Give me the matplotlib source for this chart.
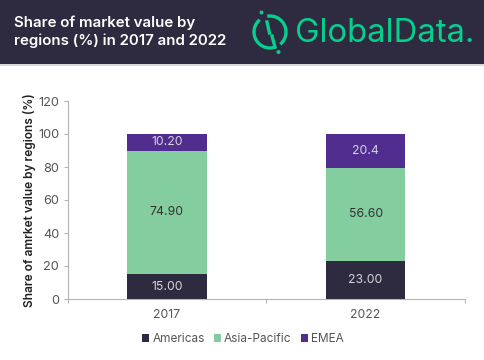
import matplotlib
matplotlib.use("Agg")
import matplotlib.pyplot as plt
from matplotlib.patches import Rectangle, Arc, Circle

years = ["2017", "2022"]
americas = [15.0, 23.0]
asia_pacific = [74.9, 56.6]
emea = [10.2, 20.4]
americas_labels = ["15.00", "23.00"]
asia_labels = ["74.90", "56.60"]
emea_labels = ["10.20", "20.4"]
yticks = [0, 20, 40, 60, 80, 100, 120]

DARK = "#2e2a3f"
GREEN = "#83cd9f"
PURPLE = "#512d8f"
TXT = "#555555"
plt.rcParams["font.family"] = ["Inter", "DejaVu Sans"]

W, H = 485, 360
fig = plt.figure(figsize=(W / 100, H / 100), dpi=100, facecolor="white")

# header
bg = fig.add_axes([0, 0, 1, 1], zorder=0)
bg.set_xlim(0, W); bg.set_ylim(H, 0); bg.axis("off")
bg.add_patch(Rectangle((0, 0), W, 64, color=DARK, lw=0))
bg.add_patch(Rectangle((0, 64), W, 1.5, color="#d8d8de", lw=0))
bg.text(14, 22.5, "Share of market value by", color="white", fontsize=10.85, fontweight="semibold", va="center")
bg.text(14, 41, "regions (%) in 2017 and 2022", color="white", fontsize=10.85, fontweight="semibold", va="center")
LOGO = "#05d08e"
bg.add_patch(Arc((270, 32), 32, 32, theta1=260, theta2=410, color=LOGO, lw=2.4))
bg.add_patch(Arc((270, 32), 32, 32, theta1=69, theta2=230, color=LOGO, lw=2.4))
bg.plot([267, 269.5], [22, 33], color=LOGO, lw=2.4)
bg.plot([272, 275], [36, 47], color=LOGO, lw=2.4)
bg.add_patch(Circle((261.5, 12.5), 2, color=LOGO, lw=0))
bg.add_patch(Circle((278.5, 52), 2, color=LOGO, lw=0))
bg.text(295, 33, "GlobalData.", color=LOGO, fontsize=23.6, va="center", fontweight="normal")

# chart
left, right, top, bottom = 67.5, 465, 101, 299
ax = fig.add_axes([left / W, 1 - bottom / H, (right - left) / W, (bottom - top) / H], zorder=1)
ax.patch.set_alpha(0)
x = [0, 1]
w = 0.4
b1 = ax.bar(x, americas, w, color=DARK, label="Americas")
b2 = ax.bar(x, asia_pacific, w, bottom=americas, color=GREEN, label="Asia-Pacific")
bottom3 = [a + b for a, b in zip(americas, asia_pacific)]
b3 = ax.bar(x, emea, w, bottom=bottom3, color=PURPLE, label="EMEA")
ax.bar_label(b1, labels=americas_labels, label_type="center", color="#d5d5dc", fontsize=8.8)
ax.bar_label(b2, labels=asia_labels, label_type="center", color="#333333", fontsize=8.8)
ax.bar_label(b3, labels=emea_labels, label_type="center", color="#d5d5dc", fontsize=8.8)

ax.set_xlim(-0.5, 1.5)
ax.set_ylim(0, 120)
ax.set_yticks(yticks)
ax.set_xticks(x, years)
ax.set_xticks([-0.5, 0.5, 1.5], minor=True)
ax.tick_params(axis="x", which="major", length=0, labelsize=8.8, labelcolor=TXT, pad=7)
ax.tick_params(axis="x", which="minor", length=3, width=0.8, color="#b5b5b5")
ax.tick_params(axis="y", length=3, width=0.8, color="#b5b5b5", labelsize=9.2, labelcolor=TXT, pad=3)
for s in ("top", "right"):
    ax.spines[s].set_visible(False)
for s in ("left", "bottom"):
    ax.spines[s].set_color("#b5b5b5")
    ax.spines[s].set_linewidth(0.8)
ax.set_ylabel("Share of amrket value by regions (%)", fontsize=8.6, fontweight="semibold", color="#222222")
ax.yaxis.set_label_coords((36 - left) / (right - left), 0.5, transform=ax.transAxes)
ax.legend(loc="upper center", bbox_to_anchor=(0.441, -0.12), ncol=3, frameon=False, fontsize=8.5,
          labelcolor=TXT, handlelength=0.6, handleheight=0.6, handletextpad=0.3, columnspacing=0.75)

fig.savefig("out.png", dpi=100)
